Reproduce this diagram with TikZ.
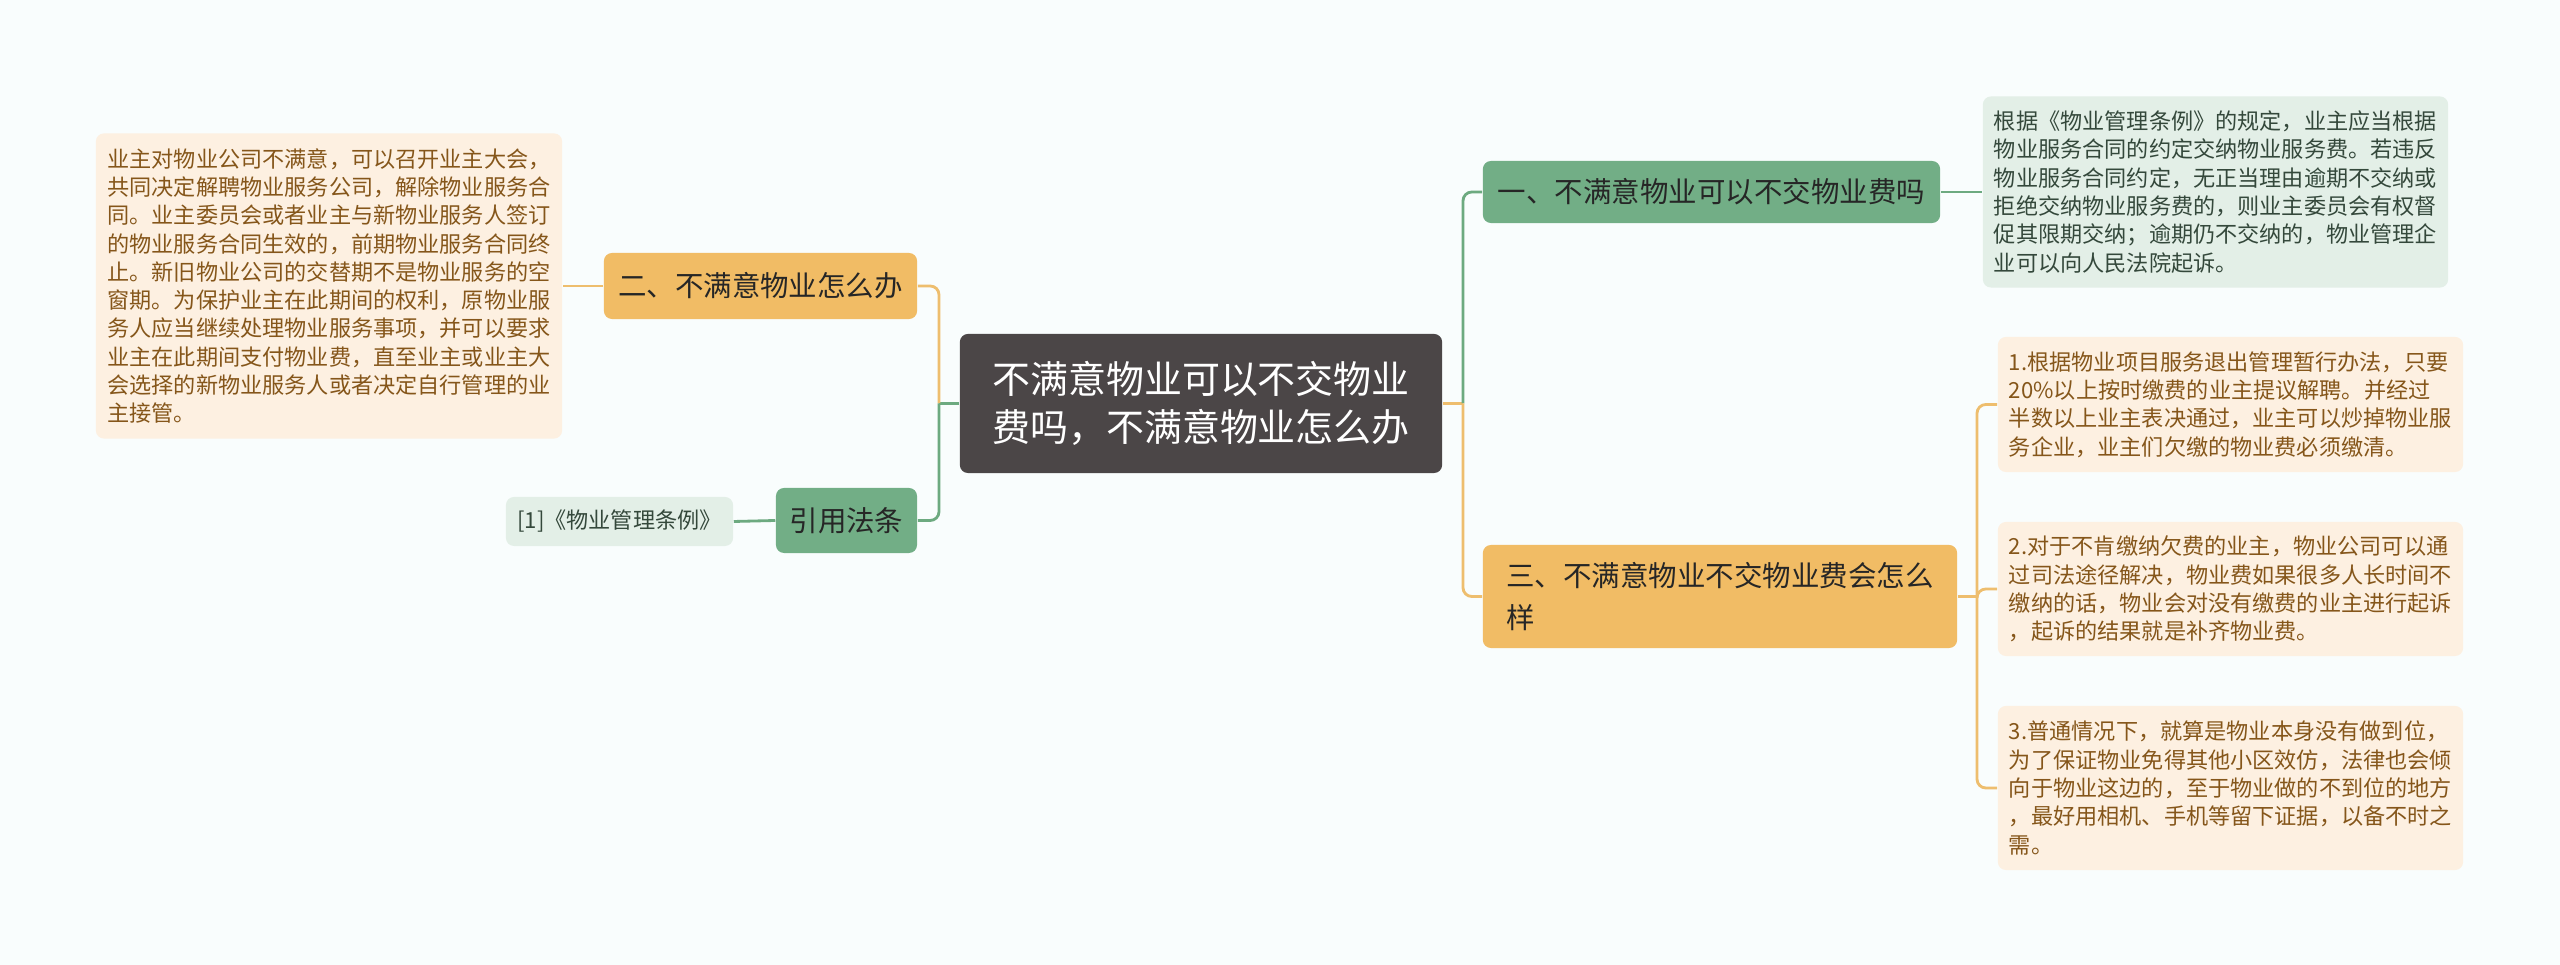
\documentclass[tikz,border=0pt]{standalone}
\usepackage{fontspec}
\setmainfont{Noto Sans CJK SC}
\definecolor{bg}{HTML}{F9FDFD}
\definecolor{rootgray}{HTML}{4B4647}
\definecolor{ofill}{HTML}{F1BC65}
\definecolor{gfill}{HTML}{72AE86}
\definecolor{oleaf}{HTML}{FDF0E1}
\definecolor{gleaf}{HTML}{E3EFE7}
\definecolor{otext}{HTML}{85561A}
\definecolor{gtext}{HTML}{34483B}
\definecolor{oline}{HTML}{EEBE6E}
\definecolor{gline}{HTML}{6DAA80}

\begin{document}
\begin{tikzpicture}[x=0.01cm,y=-0.01cm,
    box/.style={rectangle,rounded corners=2.3pt,inner sep=0pt},
    root/.style={box,fill=rootgray,text=white,align=center,font=\fontsize{10.8}{13.7}\selectfont},
    topic/.style={box,text=black!85,align=left,font=\fontsize{8.1}{11.9}\selectfont},
    leaf/.style={box,align=left,font=\fontsize{6.3}{8.05}\selectfont},
    oleafs/.style={leaf,fill=oleaf,text=otext},
    gleafs/.style={leaf,fill=gleaf,text=gtext},
    ocon/.style={draw=oline,line width=0.8pt},
    gcon/.style={draw=gline,line width=0.8pt}]
    \useasboundingbox[fill=bg] (0,0) rectangle (2560,965);

    % centre and main branches
    \node[root,minimum width=4.82cm,minimum height=1.39cm] (root) at (1201,403.5) {不满意物业可以不交物业\\费吗，不满意物业怎么办};
    \node[topic,fill=gfill,minimum width=4.57cm,minimum height=0.62cm] (n1) at (1711.5,192) {一、不满意物业可以不交物业费吗};
    \node[topic,fill=ofill,minimum width=4.74cm,minimum height=1.03cm] (n3) at (1720,596.5) {三、不满意物业不交物业费会怎么\\样};
    \node[topic,fill=ofill,minimum width=3.13cm,minimum height=0.66cm] (n2) at (760.5,286) {二、不满意物业怎么办};
    \node[topic,fill=gfill,minimum width=1.41cm,minimum height=0.65cm] (ref) at (846.5,520.5) {引用法条};

    % leaves
    \node[oleafs,minimum width=4.66cm,minimum height=3.05cm] (lb) at (329,286) {业主对物业公司不满意，可以召开业主大会，\\共同决定解聘物业服务公司，解除物业服务合\\同。业主委员会或者业主与新物业服务人签订\\的物业服务合同生效的，前期物业服务合同终\\止。新旧物业公司的交替期不是物业服务的空\\窗期。为保护业主在此期间的权利，原物业服\\务人应当继续处理物业服务事项，并可以要求\\业主在此期间支付物业费，直至业主或业主大\\会选择的新物业服务人或者决定自行管理的业\\主接管。};
    \node[gleafs,minimum width=2.27cm,minimum height=0.49cm] (lr) at (619.5,521.5) {[1]《物业管理条例》};
    \node[gleafs,minimum width=4.65cm,minimum height=1.91cm] (gb) at (2215.5,192) {根据《物业管理条例》的规定，业主应当根据\\物业服务合同的约定交纳物业服务费。若违反\\物业服务合同约定，无正当理由逾期不交纳或\\拒绝交纳物业服务费的，则业主委员会有权督\\促其限期交纳；逾期仍不交纳的，物业管理企\\业可以向人民法院起诉。};
    \node[oleafs,minimum width=4.65cm,minimum height=1.35cm] (a1) at (2230.5,404.5) {1.根据物业项目服务退出管理暂行办法，只要\\20\%以上按时缴费的业主提议解聘。并经过\\半数以上业主表决通过，业主可以炒掉物业服\\务企业，业主们欠缴的物业费必须缴清。};
    \node[oleafs,minimum width=4.65cm,minimum height=1.34cm] (a2) at (2230.5,589) {2.对于不肯缴纳欠费的业主，物业公司可以通\\过司法途径解决，物业费如果很多人长时间不\\缴纳的话，物业会对没有缴费的业主进行起诉\\，起诉的结果就是补齐物业费。};
    \node[oleafs,minimum width=4.65cm,minimum height=1.64cm] (a3) at (2230.5,788) {3.普通情况下，就算是物业本身没有做到位，\\为了保证物业免得其他小区效仿，法律也会倾\\向于物业这边的，至于物业做的不到位的地方\\，最好用相机、手机等留下证据，以备不时之\\需。};

    \coordinate (jl) at (939,403.5);
    \coordinate (jr) at (1463,403.5);
    \coordinate (js) at (1977,596.5);

    % connectors
    \draw[gcon] (root.west) -- (jl);
    \draw[ocon,rounded corners=2.5pt] (jl) |- (n2.east);
    \draw[gcon,rounded corners=2.5pt] (jl) |- (ref.east);
    \draw[ocon] (root.east) -- (jr);
    \draw[gcon,rounded corners=2.5pt] (jr) |- (n1.west);
    \draw[ocon,rounded corners=2.5pt] (jr) |- (n3.west);
    \draw[ocon] (n2.west) -- (lb.east);
    \draw[gcon] (ref.west) -- (lr.east);
    \draw[gcon] (n1.east) -- (gb.west);
    \draw[ocon] (n3.east) -- (js);
    \foreach \a in {a1,a2,a3}
        \draw[ocon,rounded corners=2.5pt] (js) |- (\a.west);
\end{tikzpicture}
\end{document}
